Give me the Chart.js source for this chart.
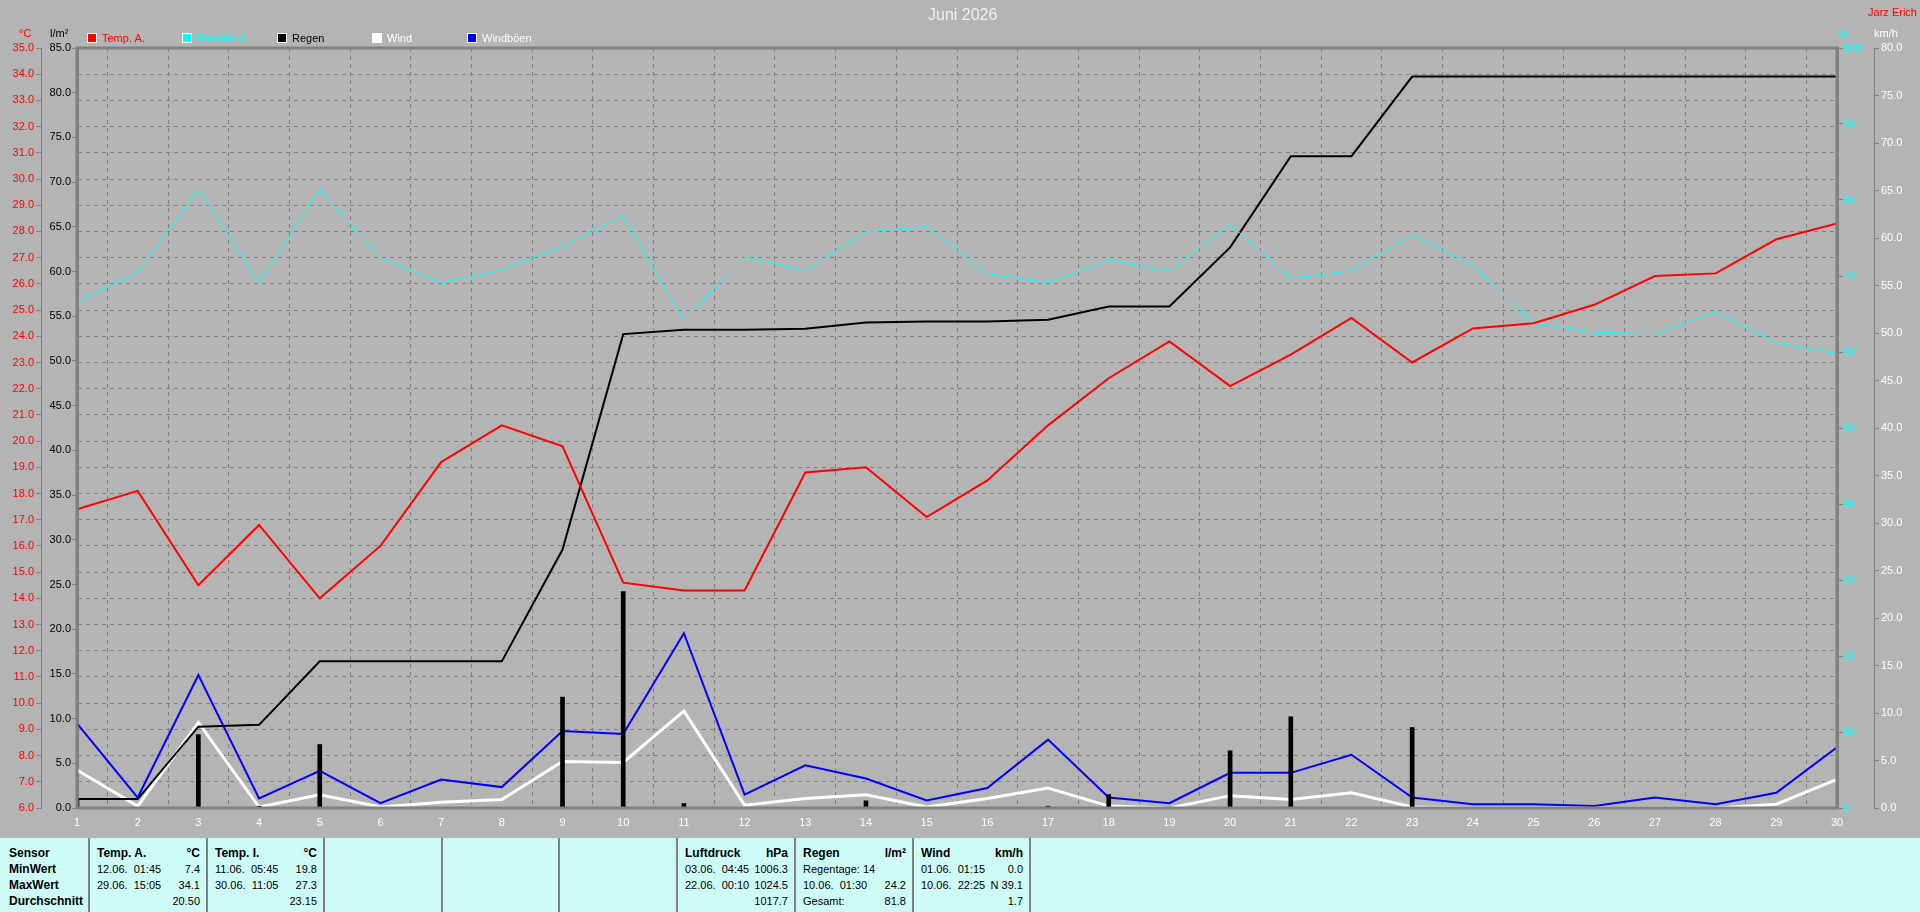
<!DOCTYPE html>
<html>
<head>
<meta charset="utf-8">
<title>Juni 2026</title>
<script src="https://cdn.jsdelivr.net/npm/chart.js@4/dist/chart.umd.min.js"></script>
<style>
  body { margin: 0; background: #b4b4b4; font-family: "Liberation Sans", Arial, sans-serif; }
  #wrap { position: relative; width: 1920px; height: 912px; overflow: hidden; }
  #myChart { position: absolute; left: 0; top: 0; }
  .lbl { position: absolute; font-size: 11px; line-height: 12px; white-space: nowrap; }
  .box { position: absolute; width: 8px; height: 8px; border: 1px solid #fff; }
  #stats { position: absolute; left: 0; top: 838px; width: 1920px; height: 74px; background: #cdfcf7; }
  .col { position: absolute; top: 0; height: 74px; box-sizing: border-box; padding: 7px 7px 0 8px; }
  .sep { position: absolute; top: 0; width: 2px; height: 74px; background: #808080; }
  .row { display: flex; justify-content: space-between; height: 16px; line-height: 16px; font-size: 11px; white-space: pre; color: #000; }
  .row.bold { font-weight: bold; font-size: 12px; }
</style>
</head>
<body>
<div id="wrap">
  <canvas id="myChart" width="1920" height="838"></canvas>
  <div class="lbl" style="left:928px;top:6px;font-size:16px;line-height:18px;color:#f0f0f0">Juni 2026</div>
  <div class="lbl" style="right:3px;top:6px;font-size:11px;color:#ff0000">Jarz Erich</div>
  <div class="lbl" style="left:19px;top:27px;color:#ff0000">°C</div>
  <div class="lbl" style="left:50px;top:27px;color:#000">l/m²</div>
  <div class="lbl" style="left:1838px;top:27px;color:#00ffff">%</div>
  <div class="lbl" style="left:1874px;top:27px;color:#fff">km/h</div>
  <div id="legend"></div>
  <div id="stats"></div>
</div>
<script>
// Tage im Monat
const days = [1, 2, 3, 4, 5, 6, 7, 8, 9, 10, 11, 12, 13, 14, 15, 16, 17, 18, 19, 20, 21, 22, 23, 24, 25, 26, 27, 28, 29, 30]

const temp_a = [17.4, 18.1, 14.5, 16.8, 14.0, 16.0, 19.2, 20.6, 19.8, 14.6, 14.3, 14.3, 18.8, 19.0, 17.1,
    18.5, 20.6, 22.4, 23.8, 22.1, 23.3, 24.7, 23.0, 24.3, 24.5, 25.2, 26.3, 26.4, 27.7, 28.3]
const feuchte_a = [66.6, 70.5, 81.4, 69.1, 81.4, 72.4, 69.1, 70.8, 73.9, 77.9, 64.2, 72.5, 70.7, 75.8, 76.5,
    70.3, 69.1, 72.1, 70.6, 76.8, 69.7, 70.7, 75.4, 71.4, 63.8, 62.6, 62.4, 65.3, 61.2, 59.8]
const regen_summe = [1.0, 1.0, 9.1, 9.3, 16.4, 16.4, 16.4, 16.4, 28.9, 53.0, 53.5, 53.5, 53.6, 54.3, 54.4,
    54.4, 54.6, 56.1, 56.1, 62.7, 72.9, 72.9, 81.8, 81.8, 81.8, 81.8, 81.8, 81.8, 81.8, 81.8]
const regen_tag = [1.0, 0, 8.2, 0.2, 7.1, 0, 0, 0, 12.4, 24.2, 0.5, 0, 0, 0.8, 0,
    0, 0.2, 1.5, 0.1, 6.4, 10.2, 0, 9.0, 0, 0, 0, 0, 0, 0, 0]
const wind = [4.0, 0.2, 9.0, 0.1, 1.4, 0.1, 0.6, 0.9, 4.9, 4.8, 10.2, 0.3, 1.0, 1.4, 0.1,
    1.0, 2.1, 0.2, 0.0, 1.3, 0.9, 1.6, 0.1, 0.0, 0.0, 0.0, 0.0, 0.0, 0.4, 3.0]
const windboeen = [8.9, 1.1, 14.0, 1.0, 3.9, 0.5, 3.0, 2.2, 8.1, 7.8, 18.4, 1.4, 4.5, 3.1, 0.8,
    2.1, 7.2, 1.1, 0.5, 3.7, 3.7, 5.6, 1.1, 0.4, 0.4, 0.2, 1.1, 0.4, 1.6, 6.4]

const legend_names = ['Temp. A.', 'Feuchte A.', 'Regen', 'Wind', 'Windböen']
const legend_colors = ['#ff0000', '#00ffff', '#000000', '#ffffff', '#0000ff']
const legend_text = ['#ff0000', '#00ffff', '#000000', '#ffffff', '#ffffff']

// Statistik-Tabelle unten
const stat_seps = [88, 206, 323, 441, 558, 676, 794, 912, 1029]
const stat_cols = [
    {x: 0, w: 88, rows: [['Sensor', ''], ['MinWert', ''], ['MaxWert', ''], ['Durchschnitt', '']], all_bold: true},
    {x: 89, w: 118, rows: [['Temp. A.', '°C'], ['12.06.  01:45', '7.4'], ['29.06.  15:05', '34.1'], ['', '20.50']]},
    {x: 207, w: 117, rows: [['Temp. I.', '°C'], ['11.06.  05:45', '19.8'], ['30.06.  11:05', '27.3'], ['', '23.15']]},
    {x: 677, w: 118, rows: [['Luftdruck', 'hPa'], ['03.06.  04:45', '1006.3'], ['22.06.  00:10', '1024.5'], ['', '1017.7']]},
    {x: 795, w: 118, rows: [['Regen', 'l/m²'], ['Regentage: 14', ''], ['10.06.  01:30', '24.2'], ['Gesamt:', '81.8']]},
    {x: 913, w: 117, rows: [['Wind', 'km/h'], ['01.06.  01:15', '0.0'], ['10.06.  22:25', 'N 39.1'], ['', '1.7']]}
]

function points(values) {
    let out = []
    for (let i = 0; i < days.length; i++) {
        out.push({x: days[i], y: values[i]})
    }
    return out
}

function build_legend() {
    const el = document.getElementById('legend')
    let html = ''
    for (let i = 0; i < legend_names.length; i++) {
        const left = 87 + i * 95
        html += '<div class="box" style="left:' + left + 'px;top:33px;background:' + legend_colors[i] + '"></div>'
        html += '<div class="lbl" style="left:' + (left + 15) + 'px;top:32px;color:' + legend_text[i] + '">' + legend_names[i] + '</div>'
    }
    el.innerHTML = html
}

function build_stats() {
    const el = document.getElementById('stats')
    let html = ''
    for (const x of stat_seps) {
        html += '<div class="sep" style="left:' + x + 'px"></div>'
    }
    for (const col of stat_cols) {
        html += '<div class="col" style="left:' + col.x + 'px;width:' + col.w + 'px' + (col.all_bold ? ';padding-left:9px' : '') + '">'
        col.rows.forEach((r, i) => {
            const bold = col.all_bold || i === 0
            html += '<div class="row' + (bold ? ' bold' : '') + '"><span>' + r[0] + '</span><span>' + r[1] + '</span></div>'
        })
        html += '</div>'
    }
    el.innerHTML = html
}

// Rahmen um die Grafik
const frame_plugin = {
    id: 'frame',
    afterDatasetsDraw(chart) {
        const {ctx, chartArea} = chart
        ctx.save()
        ctx.strokeStyle = '#808080'
        ctx.lineWidth = 3
        ctx.strokeRect(chartArea.left, chartArea.top, chartArea.right - chartArea.left, chartArea.bottom - chartArea.top)
        ctx.restore()
    }
}

function make_chart() {
    Chart.defaults.font.family = '"Liberation Sans", Arial, sans-serif'
    Chart.defaults.font.size = 11
    const ctx = document.getElementById('myChart')
    // eslint-disable-next-line no-unused-vars
    const myChart = new Chart(ctx, {
        type: 'line',
        data: {
            datasets: [{
                type: 'bar',
                label: 'Regen Tag',
                data: points(regen_tag),
                yAxisID: 'yRain',
                backgroundColor: '#000000',
                barThickness: 4,
                order: 0
            }, {
                label: 'Temp. A.',
                data: points(temp_a),
                yAxisID: 'yTemp',
                borderColor: '#ff0000',
                borderWidth: 2,
                order: 1
            }, {
                label: 'Feuchte A.',
                data: points(feuchte_a),
                yAxisID: 'yHum',
                borderColor: '#00ffff',
                borderWidth: 1,
                order: 2
            }, {
                label: 'Regen',
                data: points(regen_summe),
                yAxisID: 'yRain',
                borderColor: '#000000',
                borderWidth: 2,
                order: 3
            }, {
                label: 'Windböen',
                data: points(windboeen),
                yAxisID: 'yWind',
                borderColor: '#0000ff',
                borderWidth: 2,
                order: 4
            }, {
                label: 'Wind',
                data: points(wind),
                yAxisID: 'yWind',
                borderColor: '#ffffff',
                borderWidth: 3,
                order: 5
            }]
        },
        options: {
            responsive: false,
            animation: false,
            devicePixelRatio: 1,
            layout: {
                padding: {top: 48, left: 0, right: 0, bottom: 0}
            },
            elements: {
                line: {tension: 0, fill: false},
                point: {radius: 0, hoverRadius: 0}
            },
            plugins: {
                legend: {display: false},
                tooltip: {enabled: false}
            },
            scales: {
                x: {
                    type: 'linear',
                    min: 1,
                    max: 30,
                    offset: false,
                    afterFit: (s) => { s.height = 30 },
                    ticks: {stepSize: 1, color: '#ffffff', padding: 8, autoSkip: false, maxRotation: 0},
                    grid: {color: '#808080', drawTicks: false},
                    border: {display: false, dash: [4, 4]}
                },
                yTemp: {
                    position: 'left',
                    weight: 2,
                    min: 6,
                    max: 35,
                    afterFit: (s) => { s.width = 41 },
                    ticks: {stepSize: 1, color: '#ff0000', padding: 2, autoSkip: false, callback: (v) => v.toFixed(1)},
                    grid: {color: '#808080', tickLength: 5, tickColor: '#808080'},
                    border: {display: true, color: '#808080', width: 1, dash: [4, 4]}
                },
                yRain: {
                    position: 'left',
                    weight: 1,
                    min: 0,
                    max: 85,
                    afterFit: (s) => { s.width = 36 },
                    ticks: {stepSize: 5, color: '#000000', padding: 1, autoSkip: false, callback: (v) => v.toFixed(1)},
                    grid: {drawOnChartArea: false, color: '#808080', tickLength: 5},
                    border: {display: true, color: '#808080', width: 3}
                },
                yHum: {
                    position: 'right',
                    weight: 1,
                    min: 0,
                    max: 100,
                    afterFit: (s) => { s.width = 37 },
                    ticks: {stepSize: 10, color: '#00ffff', padding: 0, autoSkip: false},
                    grid: {drawOnChartArea: false, color: '#808080', tickLength: 6},
                    border: {display: true, color: '#808080', width: 3}
                },
                yWind: {
                    position: 'right',
                    weight: 2,
                    min: 0,
                    max: 80,
                    afterFit: (s) => { s.width = 46 },
                    ticks: {stepSize: 5, color: '#ffffff', padding: 2, autoSkip: false, callback: (v) => v.toFixed(1)},
                    grid: {drawOnChartArea: false, color: '#808080', tickLength: 5},
                    border: {display: true, color: '#808080', width: 1}
                }
            }
        },
        plugins: [frame_plugin]
    })
}

build_legend()
build_stats()
make_chart()
</script>
</body>
</html>
